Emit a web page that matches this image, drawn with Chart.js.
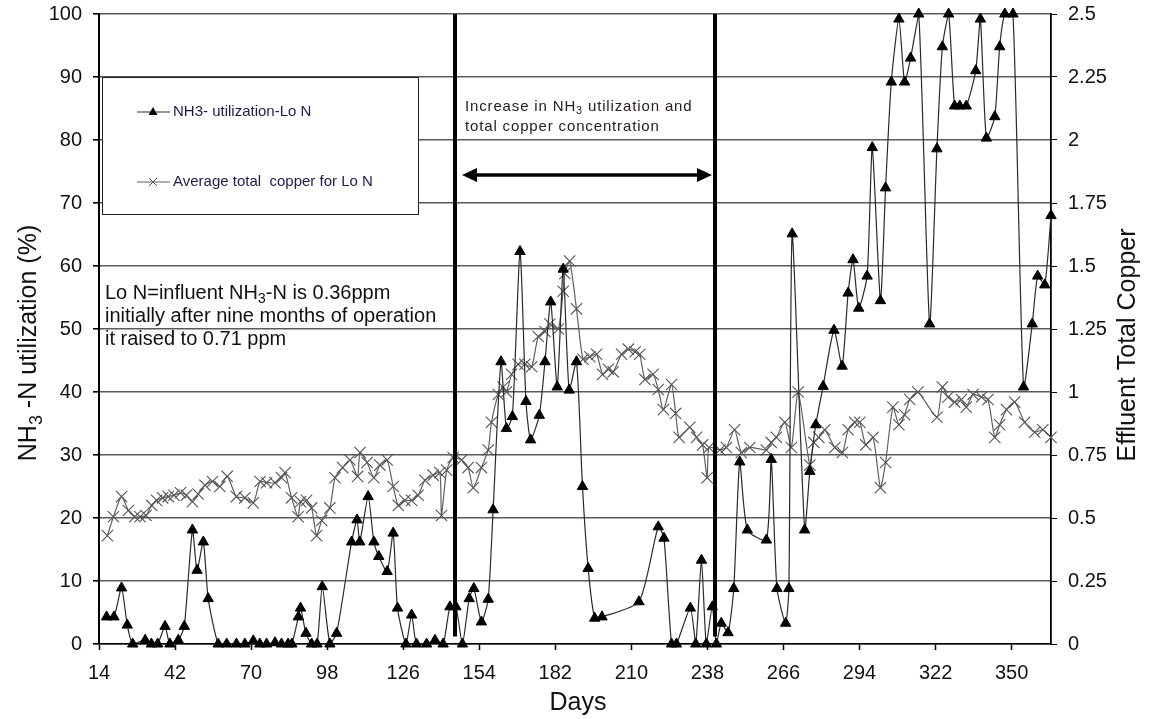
<!DOCTYPE html>
<html>
<head>
<meta charset="utf-8">
<script src="https://cdn.jsdelivr.net/npm/chart.js@4"></script>
<style>
html,body{margin:0;padding:0;background:#fff;}
#wrap{width:1149px;height:719px;position:relative;}
</style>
</head>
<body>
<div id="wrap"><canvas id="c" width="1149" height="719"></canvas></div>
<script>
// ---------------- DATA ----------------
const nh3Days = [16.8, 19.5, 22.3, 24.4, 26.4, 31.0, 33.3, 35.6, 38.3, 40.1,
  43.2, 45.4, 48.4, 50.1, 52.4, 54.2, 57.9, 61.0, 64.6, 67.7,
  70.8, 73.2, 75.7, 78.8, 81.2, 83.6, 85.0, 87.4, 88.2, 90.2,
  92.3, 94.3, 96.2, 99.0, 101.5, 107.0, 109.0, 110.0, 113.1, 115.2,
  117.0, 120.1, 122.3, 123.9, 127.0, 129.1, 130.9, 134.6, 137.7, 140.7,
  143.2, 145.4, 147.8, 150.3, 152.0, 154.8, 157.3, 159.1, 162.0, 164.0,
  166.2, 169.0, 171.2, 172.9, 176.1, 178.2, 180.3, 182.7, 184.9, 187.1,
  189.8, 192.0, 194.1, 196.5, 199.2, 212.8, 219.9, 222.0, 224.8, 226.6,
  231.7, 233.7, 235.8, 237.6, 239.8, 241.3, 243.1, 245.6, 247.7, 249.9,
  252.7, 259.7, 261.5, 263.6, 266.8, 268.0, 269.2, 273.8, 275.7, 277.9,
  280.6, 284.6, 287.6, 289.8, 291.6, 293.7, 296.8, 298.7, 301.7, 303.6,
  305.7, 308.5, 310.6, 312.8, 315.8, 319.8, 322.5, 324.5, 326.8, 329.0,
  330.9, 333.3, 336.8, 338.5, 340.7, 343.8, 345.6, 347.5, 350.5, 354.4,
  357.6, 359.6, 362.2, 364.5];
const nh3Values = [4.3, 4.3, 8.9, 3.0, 0, 0.6, 0, 0, 2.8, 0,
  0.6, 2.8, 18.1, 11.7, 16.2, 7.2, 0, 0, 0, 0,
  0.5, 0, 0, 0.2, 0, 0, 0, 4.3, 5.7, 1.7,
  0, 0, 9.1, 0, 1.7, 16.2, 19.7, 16.2, 23.4, 16.2,
  13.9, 11.5, 17.6, 5.7, 0, 4.6, 0, 0, 0.6, 0,
  5.9, 5.9, 0, 7.2, 8.8, 3.5, 7.1, 21.3, 44.8, 34.2,
  36.1, 62.3, 38.5, 32.4, 36.3, 44.8, 54.3, 40.8, 59.5, 40.3,
  44.8, 25.0, 12.0, 4.1, 4.3, 6.7, 18.6, 16.8, 0, 0,
  5.7, 0, 13.3, 0, 5.9, 0, 3.3, 1.8, 8.8, 28.9,
  18.1, 16.5, 29.3, 8.8, 3.3, 8.8, 65.1, 18.1, 27.4, 34.8,
  40.9, 49.8, 44.1, 55.7, 61.0, 53.3, 58.4, 78.8, 54.5, 72.4,
  89.2, 99.2, 89.2, 93.0, 100, 50.8, 78.6, 94.8, 100, 85.4,
  85.4, 85.4, 91.0, 99.2, 80.3, 83.7, 94.8, 100, 100, 40.8,
  50.8, 58.4, 57.0, 68.0];

const copperDays = [17.1, 19.3, 22.3, 24.8, 27.2, 29.1, 31.3, 33.4, 35.2, 37.4,
  39.5, 41.6, 44.0, 46.2, 48.4, 50.5, 53.0, 55.8, 58.5, 61.2,
  64.6, 67.7, 70.8, 73.3, 75.7, 78.8, 81.2, 82.5, 84.9, 87.3,
  88.2, 90.4, 92.3, 94.1, 96.0, 99.0, 100.9, 103.7, 106.4, 109.2,
  110.1, 112.7, 115.2, 117.4, 120.1, 122.3, 124.2, 126.6, 129.1, 131.5,
  134.0, 137.0, 139.5, 140.1, 142.0, 144.4, 147.5, 149.9, 151.8, 154.8,
  157.3, 158.5, 161.0, 162.8, 164.0, 165.9, 168.3, 170.8, 173.3, 175.7,
  178.2, 180.0, 183.1, 184.9, 185.5, 187.3, 189.8, 192.2, 194.7, 197.2,
  199.4, 201.5, 203.3, 206.4, 208.9, 211.4, 213.1, 215.0, 218.0, 219.9,
  221.8, 224.8, 226.3, 227.6, 231.5, 234.0, 236.2, 237.9, 238.6, 242.6,
  245.0, 248.0, 250.5, 253.6, 259.7, 261.5, 263.4, 266.5, 268.9, 271.4,
  275.7, 277.2, 279.0, 281.2, 284.9, 287.7, 289.8, 292.2, 294.1, 296.3,
  299.0, 301.7, 303.6, 306.3, 308.5, 310.6, 312.5, 315.5, 322.5, 324.5,
  326.6, 329.0, 331.5, 333.3, 335.8, 338.9, 341.3, 343.8, 345.6, 348.1,
  351.1, 354.8, 358.5, 361.5, 364.5];
const copperValues = [0.43, 0.505, 0.585, 0.53, 0.505, 0.505, 0.51, 0.55, 0.57, 0.58,
  0.585, 0.59, 0.60, 0.59, 0.565, 0.595, 0.63, 0.645, 0.625, 0.665,
  0.585, 0.58, 0.56, 0.645, 0.64, 0.64, 0.66, 0.68, 0.58, 0.505,
  0.565, 0.57, 0.54, 0.43, 0.49, 0.54, 0.66, 0.70, 0.73, 0.665,
  0.76, 0.72, 0.66, 0.71, 0.73, 0.625, 0.55, 0.57, 0.57, 0.59,
  0.65, 0.67, 0.68, 0.51, 0.69, 0.74, 0.73, 0.70, 0.62, 0.70,
  0.77, 0.88, 0.99, 1.02, 1.0, 1.07, 1.11, 1.11, 1.10, 1.22,
  1.24, 1.27, 1.25, 1.40, 1.47, 1.52, 1.33, 1.13, 1.14, 1.15,
  1.07, 1.09, 1.08, 1.15, 1.17, 1.16, 1.15, 1.05, 1.07, 1.01,
  0.93, 1.03, 0.915, 0.82, 0.86, 0.82, 0.79, 0.66, 0.78, 0.77,
  0.78, 0.85, 0.76, 0.78, 0.77, 0.80, 0.82, 0.88, 0.78, 1.0,
  0.71, 0.80, 0.82, 0.85, 0.78, 0.76, 0.85, 0.88, 0.88, 0.79,
  0.82, 0.62, 0.72, 0.94, 0.87, 0.91, 0.97, 1.0, 0.90, 1.02,
  0.98, 0.96, 0.97, 0.94, 0.99, 0.98, 0.97, 0.82, 0.87, 0.93,
  0.96, 0.88, 0.84, 0.85, 0.82];

const xTicks = [14, 42, 70, 98, 126, 154, 182, 210, 238, 266, 294, 322, 350];
const leftTicks = [0, 10, 20, 30, 40, 50, 60, 70, 80, 90, 100];
const rightTicks = [0, 0.25, 0.5, 0.75, 1, 1.25, 1.5, 1.75, 2, 2.25, 2.5];
const legendLabels = ['NH3- utilization-Lo N', 'Average total  copper for Lo N'];
const phaseBoundaries = [145.0, 240.7];   // days of the two thick vertical lines
const arrowLevel = 74.4;                  // % level of the double arrow

// ---------------- DRAWING ----------------
const FONT = "'Liberation Sans', Arial, Helvetica, sans-serif";

function richWidth(ctx, segs, size) {
  let w = 0;
  segs.forEach(s => {
    ctx.font = `${s.sub ? size * 0.72 : size}px ${FONT}`;
    w += ctx.measureText(s.t).width;
  });
  return w;
}
function drawRich(ctx, segs, x, yBase, size, color) {
  ctx.fillStyle = color;
  ctx.textBaseline = 'alphabetic';
  ctx.textAlign = 'left';
  let cx = x;
  segs.forEach(s => {
    const fs = s.sub ? size * 0.72 : size;
    ctx.font = `${fs}px ${FONT}`;
    ctx.fillText(s.t, cx, yBase + (s.sub ? size * 0.22 : 0));
    cx += ctx.measureText(s.t).width;
  });
}

const annot = {
  id: 'annot',
  afterDatasetsDraw(chart) {
    const ctx = chart.ctx;
    const a = chart.chartArea;
    const xs = chart.scales.x, ys = chart.scales.y;
    ctx.save();

    // thick vertical phase lines
    ctx.strokeStyle = '#000';
    ctx.lineWidth = 4;
    const bx = phaseBoundaries.map(d => Math.round(xs.getPixelForValue(d)));
    bx.forEach(px => {
      ctx.beginPath();
      ctx.moveTo(px, a.top);
      ctx.lineTo(px, ys.getPixelForValue(1.2));
      ctx.stroke();
    });

    // double-headed arrow
    const ay = Math.round(ys.getPixelForValue(arrowLevel));
    const x1 = bx[0] + 7, x2 = bx[1] - 3;
    ctx.lineWidth = 3.5;
    ctx.beginPath(); ctx.moveTo(x1 + 10, ay); ctx.lineTo(x2 - 10, ay); ctx.stroke();
    ctx.fillStyle = '#000';
    ctx.beginPath(); ctx.moveTo(x1, ay); ctx.lineTo(x1 + 15, ay - 7); ctx.lineTo(x1 + 15, ay + 7); ctx.closePath(); ctx.fill();
    ctx.beginPath(); ctx.moveTo(x2, ay); ctx.lineTo(x2 - 15, ay - 7); ctx.lineTo(x2 - 15, ay + 7); ctx.closePath(); ctx.fill();

    // annotation text between lines
    ctx.letterSpacing = '0.85px';
    drawRich(ctx, [{t: 'Increase in NH'}, {t: '3', sub: true}, {t: ' utilization and'}], bx[0] + 10, 111, 15, '#2a2020');
    drawRich(ctx, [{t: 'total copper concentration'}], bx[0] + 10, 131, 15, '#2a2020');
    ctx.letterSpacing = '0px';

    // Lo N note
    drawRich(ctx, [{t: 'Lo N=influent NH'}, {t: '3', sub: true}, {t: '-N is 0.36ppm'}], a.left + 6, 299, 20, '#111');
    drawRich(ctx, [{t: 'initially after nine months of operation'}], a.left + 6, 322, 20, '#111');
    drawRich(ctx, [{t: 'it raised to 0.71 ppm'}], a.left + 6, 345, 20, '#111');

    // legend box
    const L = {x: a.left + 3, y: 77, w: 316, h: 137};
    ctx.fillStyle = '#fff';
    ctx.fillRect(L.x, L.y, L.w, L.h);
    ctx.strokeStyle = '#222';
    ctx.lineWidth = 1;
    ctx.strokeRect(L.x + 0.5, L.y + 0.5, L.w, L.h);
    const rows = [112, 182];
    chart.data.datasets.forEach((ds, i) => {
      const ry = rows[i];
      ctx.strokeStyle = ds.borderColor;
      ctx.lineWidth = 1.2;
      ctx.beginPath(); ctx.moveTo(L.x + 35, ry); ctx.lineTo(L.x + 68, ry); ctx.stroke();
      ctx.fillStyle = ds.pointBackgroundColor;
      ctx.strokeStyle = ds.pointBorderColor;
      ctx.lineWidth = 1;
      ctx.beginPath();
      if (i === 0) {
        ctx.moveTo(L.x + 51, ry - 5); ctx.lineTo(L.x + 55.5, ry + 3); ctx.lineTo(L.x + 46.5, ry + 3); ctx.closePath(); ctx.fill();
      } else {
        ctx.moveTo(L.x + 47, ry - 4); ctx.lineTo(L.x + 55, ry + 4);
        ctx.moveTo(L.x + 55, ry - 4); ctx.lineTo(L.x + 47, ry + 4); ctx.stroke();
      }
      ctx.fillStyle = '#1c1c4c';
      ctx.font = `15px ${FONT}`;
      ctx.textBaseline = 'middle';
      ctx.textAlign = 'left';
      ctx.fillText(ds.label, L.x + 71, ry);
    });

    // axis titles
    const TS = 25;
    const ls = [{t: 'NH'}, {t: '3', sub: true}, {t: ' -N utilization (%)'}];
    const lw = richWidth(ctx, ls, TS);
    ctx.save();
    ctx.translate(27, (a.top + a.bottom) / 2 + 14);
    ctx.rotate(-Math.PI / 2);
    drawRich(ctx, ls, -lw / 2, TS * 0.36, TS, '#111');
    ctx.restore();

    const rs = [{t: 'Effluent Total Copper'}];
    const rw = richWidth(ctx, rs, TS);
    ctx.save();
    ctx.translate(1126, (a.top + a.bottom) / 2 + 16);
    ctx.rotate(-Math.PI / 2);
    drawRich(ctx, rs, -rw / 2, TS * 0.36, TS, '#111');
    ctx.restore();

    ctx.font = `${TS}px ${FONT}`;
    ctx.fillStyle = '#111';
    ctx.textAlign = 'center';
    ctx.textBaseline = 'middle';
    ctx.fillText('Days', (a.left + a.right) / 2 + 3, 703);

    ctx.restore();
  }
};

const tickFont = {family: FONT, size: 20};
function fixV(w) { return s => { s.width = w; s.paddingTop = 0; s.paddingBottom = 0; }; }

new Chart(document.getElementById('c'), {
  type: 'line',
  data: {
    datasets: [
      {
        label: legendLabels[0],
        data: nh3Days.map((d, i) => ({x: d, y: nh3Values[i]})),
        yAxisID: 'y',
        borderColor: '#2a2a2a', borderWidth: 1.2,
        pointStyle: 'triangle', pointRadius: 6,
        pointBackgroundColor: '#000', pointBorderColor: '#000', pointBorderWidth: 1,
        tension: 0.2, clip: false, fill: false
      },
      {
        label: legendLabels[1],
        data: copperDays.map((d, i) => ({x: d, y: copperValues[i]})),
        yAxisID: 'y2',
        borderColor: '#606060', borderWidth: 1.2,
        pointStyle: 'crossRot', pointRadius: 8,
        pointBackgroundColor: '#555', pointBorderColor: '#555', pointBorderWidth: 1.1,
        tension: 0.2, clip: false, fill: false
      }
    ]
  },
  options: {
    responsive: false, animation: false, devicePixelRatio: 1,
    layout: {padding: {top: 14, left: 0, right: 0, bottom: 0}},
    plugins: {legend: {display: false}, tooltip: {enabled: false}},
    scales: {
      x: {
        type: 'linear', min: 14, max: 364.5,
        afterBuildTicks: s => { s.ticks = xTicks.map(v => ({value: v})); },
        afterFit: s => { s.height = 75; s.paddingLeft = 0; s.paddingRight = 0; },
        grid: {display: true, drawOnChartArea: false, drawTicks: true, tickLength: 6, tickColor: '#000', tickWidth: 1.5},
        border: {display: true, color: '#000', width: 1.5},
        ticks: {font: tickFont, color: '#111', padding: 11, maxRotation: 0, autoSkip: false, callback: v => String(v)}
      },
      y: {
        position: 'left', min: 0, max: 100,
        afterBuildTicks: s => { s.ticks = leftTicks.map(v => ({value: v})); },
        afterFit: fixV(99),
        grid: {color: '#5a5a5a', lineWidth: 1.6, tickLength: 6, tickColor: '#000'},
        border: {color: '#000', width: 2},
        ticks: {font: tickFont, color: '#111', padding: 11, callback: v => String(v)}
      },
      y2: {
        position: 'right', min: 0, max: 2.5,
        afterBuildTicks: s => { s.ticks = rightTicks.map(v => ({value: v})); },
        afterFit: fixV(98),
        grid: {drawOnChartArea: false, tickLength: 6, tickColor: '#000'},
        border: {color: '#000', width: 1.8},
        ticks: {font: tickFont, color: '#111', padding: 11, callback: v => String(+Number(v).toFixed(2))}
      }
    }
  },
  plugins: [annot]
});
</script>
</body>
</html>
